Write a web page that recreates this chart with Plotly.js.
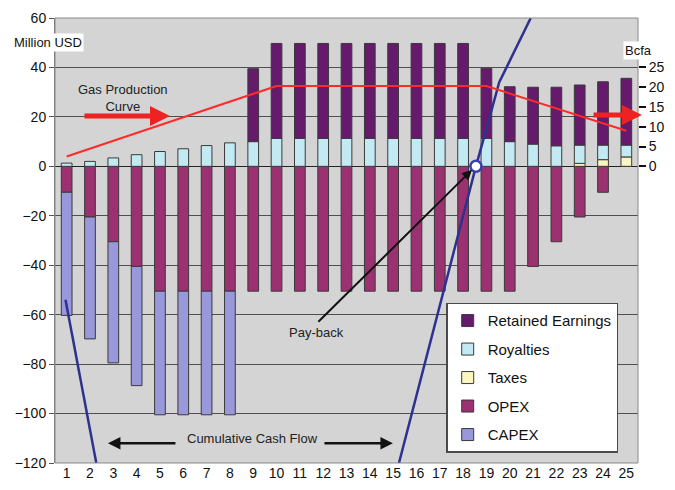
<!DOCTYPE html>
<html>
<head>
<meta charset="utf-8">
<script src="https://cdn.plot.ly/plotly-3.0.1.min.js"></script>
<style>
  html, body { margin: 0; padding: 0; background: #ffffff; }
  #chart { width: 675px; height: 490px; }
</style>
</head>
<body>
<div id="chart"></div>
<script>
// ---- Data ----
const years = [1,2,3,4,5,6,7,8,9,10,11,12,13,14,15,16,17,18,19,20,21,22,23,24,25];
const retainedEarnings = [null,null,null,null,null,null,null,null,29.5,38.4,38.4,38.4,38.4,38.4,38.4,38.4,38.4,38.4,28.4,22.2,23.0,23.7,24.3,25.6,27.0];
const royalties = [1.3,2.0,3.4,4.7,6.0,7.1,8.4,9.5,10.0,11.3,11.3,11.3,11.3,11.3,11.3,11.3,11.3,11.3,11.3,10.0,9.0,8.3,7.4,5.9,4.8];
const taxes = [null,null,null,null,null,null,null,null,null,null,null,null,null,null,null,null,null,null,null,null,null,null,1.2,2.7,3.8];
const opex = [-10.5,-20.5,-30.5,-40.5,-50.5,-50.5,-50.5,-50.5,-50.5,-50.5,-50.5,-50.5,-50.5,-50.5,-50.5,-50.5,-50.5,-50.5,-50.5,-50.5,-40.5,-30.5,-20.5,-10.5,null];
const capex = [-49.8,-49.3,-49.0,-48.2,-50,-50,-50,-50,null,null,null,null,null,null,null,null,null,null,null,null,null,null,null,null,null];

// Gas production curve (Bcfa, right axis) - vertices of the drawn polyline
const gasYears = [1, 10, 19, 25];
const gasBcfa = [2.5, 20.3, 20.3, 9.0];

// Cumulative cash flow (Million USD) - vertices of the drawn line (leaves the plot at the bottom)
const cashYears = [0.95, 2.27, null, 15.25, 18.55, 19.2, 19.55, 20.9];
const cashFlow = [-54, -120, null, -120, 0, 22, 34, 60];

const paybackYear = [18.55];
const paybackValue = [0];

const leftTicks = [-120,-100,-80,-60,-40,-20,0,20,40,60];
const rightTicks = [0,5,10,15,20,25];

// ---- Styling ----
const outline = {color: '#3a3a3a', width: 1};
const barW = 0.46;
function barTrace(name, vals, color, rank) {
  return {
    type: 'bar', name: name, x: years, y: vals, width: barW,
    marker: {color: color, line: outline},
    legendgroup: name, legendrank: rank, hoverinfo: 'x+y+name'
  };
}

const traces = [
  barTrace('OPEX', opex, '#9b3170', 4),
  barTrace('CAPEX', capex, '#9898da', 5),
  barTrace('Taxes', taxes, '#fbf6bf', 3),
  barTrace('Royalties', royalties, '#c3eaf3', 2),
  barTrace('Retained Earnings', retainedEarnings, '#661a6c', 1),
  {
    type: 'scatter', mode: 'lines', x: gasYears, y: gasBcfa, yaxis: 'y2',
    line: {color: '#ff2a2a', width: 2}, showlegend: false, cliponaxis: true
  },
  {
    type: 'scatter', mode: 'lines', x: cashYears, y: cashFlow,
    line: {color: '#2d3190', width: 2.5}, showlegend: false, connectgaps: false
  },
  {
    type: 'scatter', mode: 'markers', x: paybackYear, y: paybackValue,
    marker: {size: 11, color: '#ffffff', line: {color: '#3a3fb0', width: 2.5}},
    showlegend: false
  }
];

const fontFam = 'Arial, "Liberation Sans", sans-serif';

const layout = {
  width: 675, height: 490,
  margin: {l: 55, r: 37, t: 18, b: 27, pad: 0},
  paper_bgcolor: '#ffffff',
  plot_bgcolor: '#d4d4d4',
  barmode: 'relative',
  showlegend: true,
  font: {family: fontFam, color: '#111111', size: 14},
  xaxis: {
    range: [0.5, 25.5], tickvals: years, ticktext: years.map(String),
    showgrid: false, zeroline: false, showline: false, ticks: '',
    tickfont: {size: 14, color: '#111'}, fixedrange: true
  },
  xaxis2: {
    overlaying: 'x', anchor: 'free', position: 0.6667, side: 'bottom',
    range: [0.5, 25.5], tickvals: years.slice(0, 24).map(v => v + 0.5),
    showticklabels: false, ticks: 'outside', ticklen: 4, tickcolor: '#555', tickwidth: 1,
    showgrid: false, zeroline: false, showline: false
  },
  yaxis: {
    range: [-120, 60], tickvals: leftTicks,
    showgrid: true, gridcolor: '#4f4f4f', gridwidth: 1,
    zeroline: true, zerolinecolor: '#222', zerolinewidth: 1.5,
    showline: true, linecolor: '#777', linewidth: 1,
    ticks: 'outside', ticklen: 5, tickcolor: '#555',
    tickfont: {size: 14, color: '#111'}
  },
  yaxis2: {
    overlaying: 'y', side: 'right', range: [-75, 37.5], tickvals: rightTicks,
    showgrid: false, zeroline: false, showline: false,
    ticks: 'outside', ticklen: 7, tickwidth: 2, tickcolor: '#111',
    tickfont: {size: 14, color: '#111'}
  },
  legend: {
    x: 0.671, y: 0.36, xanchor: 'left', yanchor: 'top',
    bgcolor: '#ffffff', bordercolor: '#4a4a4a', borderwidth: 1.5,
    font: {size: 15, color: '#111', family: fontFam},
    traceorder: 'grouped', tracegroupgap: 6, itemwidth: 30
  },
  shapes: [
    {type: 'rect', xref: 'paper', yref: 'paper', x0: 0, x1: 1, y0: 0, y1: 1,
     line: {color: '#8a8a8a', width: 1}, fillcolor: 'rgba(0,0,0,0)', layer: 'above'}
  ],
  annotations: [
    {xref: 'paper', yref: 'paper', x: -0.012, y: 0.944, xanchor: 'center', yanchor: 'middle',
     text: 'Million USD', showarrow: false,
     bgcolor: '#ffffff', font: {size: 13, color: '#111'}},
    {xref: 'paper', yref: 'paper', x: 1.0, y: 0.928, xanchor: 'center', yanchor: 'middle',
     text: 'Bcfa', showarrow: false,
     bgcolor: '#ffffff', font: {size: 13, color: '#111'}},
    {x: 3.42, y: 27.7, text: 'Gas Production<br>Curve', showarrow: false,
     font: {size: 13, color: '#222'}},
    {x: 5.43, y: 20.4, ax: 1.70, ay: 20.4, axref: 'x', ayref: 'y', text: '',
     showarrow: true, arrowhead: 2, arrowsize: 0.8, arrowwidth: 5, arrowcolor: '#ee2222', standoff: 0},
    {x: 25.67, y: 20.8, ax: 23.53, ay: 20.8, axref: 'x', ayref: 'y', text: '',
     showarrow: true, arrowhead: 2, arrowsize: 0.8, arrowwidth: 5, arrowcolor: '#ee2222', standoff: 0},
    {x: 11.73, y: -67.4, text: 'Pay-back', showarrow: false, yanchor: 'middle',
     font: {size: 13, color: '#222'}},
    {x: 18.38, y: -1.4, ax: 11.73, ay: -63.5, axref: 'x', ayref: 'y', text: '',
     showarrow: true, arrowhead: 2, arrowsize: 1, arrowwidth: 2, arrowcolor: '#111', standoff: 0},
    {x: 8.95, y: -110, text: 'Cumulative Cash Flow', showarrow: false,
     font: {size: 13, color: '#222'}},
    {x: 2.77, y: -112, ax: 5.73, ay: -112, axref: 'x', ayref: 'y', text: '',
     showarrow: true, arrowhead: 2, arrowsize: 1, arrowwidth: 2.5, arrowcolor: '#111', standoff: 0},
    {x: 14.99, y: -112, ax: 11.99, ay: -112, axref: 'x', ayref: 'y', text: '',
     showarrow: true, arrowhead: 2, arrowsize: 1, arrowwidth: 2.5, arrowcolor: '#111', standoff: 0}
  ]
};

Plotly.newPlot('chart', traces, layout, {displayModeBar: false, staticPlot: true});
</script>
</body>
</html>
